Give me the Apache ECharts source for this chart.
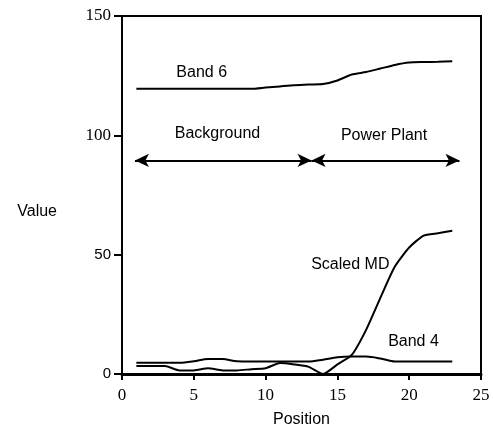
<!DOCTYPE html>
<html>
<head>
<meta charset="utf-8">
<script src="https://cdn.jsdelivr.net/npm/echarts@6/dist/echarts.min.js"></script>
<style>
  html, body { margin: 0; padding: 0; background: #fff; }
  #main { width: 493px; height: 438px; }
</style>
</head>
<body>
<div id="main"></div>
<script>
// positions 1..23
const positions = [1, 2, 3, 4, 5, 6, 7, 8, 9, 10, 11, 12, 13, 14, 15, 16, 17, 18, 19, 20, 21, 22, 23];
const band6 = [119.5, 119.5, 119.5, 119.5, 119.5, 119.5, 119.5, 119.5, 119.5, 120, 120.5, 121, 121.3, 121.5, 123, 125.5, 126.5, 128, 129.5, 130.5, 130.7, 130.8, 131];
const band4 = [4.7, 4.7, 4.7, 4.7, 5.3, 6.3, 6.3, 5.3, 5.2, 5.2, 5.2, 5.2, 5.2, 6, 7, 7.3, 7.3, 6.5, 5.2, 5.2, 5.2, 5.2, 5.2];
const scaledMD = [3.3, 3.3, 3.3, 1.5, 1.5, 2.4, 1.5, 1.5, 2, 2.4, 4.6, 4, 3, 0, 4, 8, 18.5, 32, 45, 53, 58, 59, 60];
const xTicks = [0, 5, 10, 15, 20, 25];
const yTicks = [0, 50, 100, 150];

// region arrows
const bgRange = [0.9, 13.2];
const ppRange = [13.2, 23.5];
const arrowY = 89.5;

const pairs = (xs, ys) => xs.map((x, i) => [x, ys[i]]);

const labelFont = { fontFamily: 'Liberation Sans, Arial, sans-serif', fontSize: 16, color: '#000' };

// text note placed at a data coordinate
function note(text, x, y) {
  return {
    coord: [x, y],
    symbol: 'circle',
    symbolSize: 1,
    itemStyle: { color: 'rgba(0,0,0,0)' },
    label: Object.assign({ show: true, position: 'inside', formatter: text }, labelFont)
  };
}

const chart = echarts.init(document.getElementById('main'));
chart.setOption({
  animation: false,
  grid: {
    left: 122, right: 12, top: 16, bottom: 64,
    show: true, borderColor: '#000', borderWidth: 2, backgroundColor: 'transparent'
  },
  xAxis: {
    type: 'value', min: 0, max: 25, interval: 5,
    name: 'Position', nameLocation: 'middle', nameGap: 38,
    nameTextStyle: { fontFamily: 'Liberation Sans, Arial, sans-serif', fontSize: 16, color: '#000' },
    axisLine: { lineStyle: { color: '#000', width: 3 } },
    axisTick: { show: true, length: 6, lineStyle: { color: '#000', width: 2 } },
    axisLabel: { fontFamily: 'Liberation Serif, Times New Roman, serif', fontSize: 17, color: '#000', margin: 13 },
    splitLine: { show: false }
  },
  yAxis: {
    type: 'value', min: 0, max: 150, interval: 50,
    name: 'Value', nameLocation: 'middle', nameGap: 65, nameRotate: 0,
    nameTextStyle: {
      fontFamily: 'Liberation Sans, Arial, sans-serif', fontSize: 16, color: '#000',
      verticalAlign: 'top', padding: [9, 0, 0, 0]
    },
    axisLine: { show: true, lineStyle: { color: '#000', width: 2 } },
    axisTick: { show: true, length: 8, lineStyle: { color: '#000', width: 2 } },
    axisLabel: {
      margin: 11,
      formatter: v => (v >= 100 ? '{s|' + v + '}' : '{a|' + v + '}'),
      rich: {
        s: { fontFamily: 'Liberation Serif, Times New Roman, serif', fontSize: 17, color: '#000' },
        a: { fontFamily: 'Liberation Sans, Arial, sans-serif', fontSize: 15, color: '#000' }
      }
    },
    splitLine: { show: false }
  },
  series: [
    {
      name: 'Band 6', type: 'line', data: pairs(positions, band6),
      showSymbol: false, smooth: 0.2,
      lineStyle: { color: '#000', width: 2 },
      markPoint: { data: [note('Band 6', 5.55, 126.3)] }
    },
    {
      name: 'Band 4', type: 'line', data: pairs(positions, band4),
      showSymbol: false, smooth: 0.3,
      lineStyle: { color: '#000', width: 2 },
      markPoint: { data: [note('Band 4', 20.3, 13.5)] }
    },
    {
      name: 'Scaled MD', type: 'line', data: pairs(positions, scaledMD),
      showSymbol: false, smooth: 0.2,
      lineStyle: { color: '#000', width: 2 },
      markPoint: { data: [note('Scaled MD', 15.9, 46)] }
    },
    {
      name: 'regions', type: 'line', data: [],
      markLine: {
        silent: true,
        symbol: ['arrow', 'arrow'],
        symbolSize: [10, 14],
        label: { show: false },
        lineStyle: { color: '#000', width: 2, type: 'solid' },
        data: [
          [{ coord: [bgRange[0], arrowY] }, { coord: [bgRange[1], arrowY] }],
          [{ coord: [ppRange[0], arrowY] }, { coord: [ppRange[1], arrowY] }]
        ]
      },
      markPoint: {
        data: [note('Background', 6.65, 100.8), note('Power Plant', 18.25, 99.9)]
      }
    }
  ]
});
</script>
</body>
</html>
